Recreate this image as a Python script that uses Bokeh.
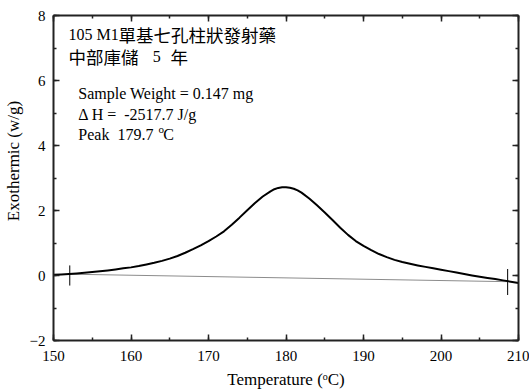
from bokeh.plotting import figure
from bokeh.models import (Range1d, LinearAxis, SingleIntervalTicker, Label,
                          CustomLabelingPolicy)
from bokeh.embed import file_html
from bokeh.resources import INLINE

# ---- data ----
temp = [150, 151, 152, 153, 154, 155, 156, 157, 158, 159, 160, 161, 162, 163,
        164, 165, 166, 167, 168, 169, 170, 171, 172, 173, 174, 175, 176, 177,
        178, 178.5, 179, 179.5, 180, 180.5, 181, 181.5, 182, 183, 184, 185,
        186, 187, 188, 189, 190, 191, 192, 193, 194, 195, 196, 197, 198, 199,
        200, 201, 202, 203, 204, 205, 206, 207, 208, 209, 210]
heat = [0.020, 0.033, 0.048, 0.065, 0.084, 0.105, 0.129, 0.156, 0.187, 0.220,
        0.250, 0.290, 0.340, 0.390, 0.450, 0.520, 0.600, 0.700, 0.810, 0.930,
        1.060, 1.200, 1.360, 1.560, 1.780, 2.010, 2.230, 2.430, 2.590, 2.655,
        2.695, 2.715, 2.715, 2.700, 2.670, 2.620, 2.550, 2.370, 2.160, 1.940,
        1.710, 1.470, 1.250, 1.060, 0.910, 0.780, 0.660, 0.565, 0.480, 0.415,
        0.360, 0.310, 0.265, 0.220, 0.180, 0.135, 0.090, 0.045, 0.003, -0.037,
        -0.075, -0.110, -0.150, -0.190, -0.230]
baseline_t = [152.1, 208.6]
baseline_h = [0.04, -0.19]
marker_t = [152.1, 208.6]
marker_lo = [-0.31, -0.60]
marker_hi = [0.31, 0.20]

SERIF = "'Liberation Serif', 'Times New Roman', 'DejaVu Serif', serif"
CJK = "'Noto Sans CJK TC', 'Noto Sans CJK SC', sans-serif"
NB = "\u00a0"

p = figure(width=529, height=391, output_backend="svg", toolbar_location=None,
           x_range=Range1d(150, 210), y_range=Range1d(-2, 8),
           x_axis_location=None, y_axis_location=None,
           min_border_left=53, min_border_right=11, min_border_top=15,
           min_border_bottom=50)
p.outline_line_color = None
p.xgrid.visible = False
p.ygrid.visible = False
p.background_fill_color = "white"
p.border_fill_color = "white"

hide_labels = CustomLabelingPolicy(code="""
try { for (const i of Array.from(indices)) indices.unset(i) } catch (e) {}
return indices
""")


def style_axis(ax, labels=True):
    ax.axis_line_width = 2
    ax.axis_line_color = "#222222"
    ax.major_tick_in = 6
    ax.major_tick_out = 0
    ax.minor_tick_in = 3
    ax.minor_tick_out = 0
    ax.major_tick_line_width = 1.5
    ax.minor_tick_line_width = 1.5
    ax.major_tick_line_color = "#222222"
    ax.minor_tick_line_color = "#222222"
    ax.major_label_text_font = SERIF
    ax.major_label_text_color = "black"
    if labels:
        ax.major_label_text_font_size = "15px"
        ax.major_label_standoff = 8
    else:
        ax.major_label_text_font_size = "0px"
        ax.major_label_standoff = 0
        ax.major_label_policy = hide_labels


xb = LinearAxis(ticker=SingleIntervalTicker(interval=10, num_minor_ticks=2),
                axis_label="Temperature (\u1d52C)")
style_axis(xb)
xb.major_label_standoff = 10
xb.axis_label_text_font = SERIF
xb.axis_label_text_font_size = "17px"
xb.axis_label_text_font_style = "normal"
xb.axis_label_text_color = "black"
xb.axis_label_standoff = 6
p.add_layout(xb, "below")
xt = LinearAxis(ticker=SingleIntervalTicker(interval=10, num_minor_ticks=2))
style_axis(xt, labels=False)
p.add_layout(xt, "above")

yl = LinearAxis(ticker=SingleIntervalTicker(interval=2, num_minor_ticks=2),
                axis_label=NB * 8 + "Exothermic (w/g)")
style_axis(yl)
yl.axis_label_text_font = SERIF
yl.axis_label_text_font_size = "17px"
yl.axis_label_text_font_style = "normal"
yl.axis_label_text_color = "black"
yl.axis_label_standoff = 4
p.add_layout(yl, "left")
yr = LinearAxis(ticker=SingleIntervalTicker(interval=2, num_minor_ticks=2))
style_axis(yr, labels=False)
p.add_layout(yr, "right")

# baseline and markers
p.line(baseline_t, baseline_h, line_color="#8c8c8c", line_width=1)
p.segment(x0=marker_t, y0=marker_lo, x1=marker_t, y1=marker_hi,
          line_color="black", line_width=1)
# DSC curve
p.line(temp, heat, line_color="black", line_width=2, line_join="round")


def lab(x, y, text, font=SERIF, size="16px"):
    p.add_layout(Label(x=x, y=y, text=text, text_font=font,
                       text_font_size=size, text_color="black",
                       text_baseline="alphabetic", text_align="left"))


# title lines
lab(151.95, 7.415, "105 M1")
lab(158.4, 7.415, "單基七孔柱狀發射藥", font=CJK, size="17.5px")
lab(151.95, 6.736, "中部庫儲", font=CJK, size="17.5px")
lab(162.8, 6.736, "5")
lab(165.1, 6.736, "年", font=CJK, size="17.5px")

# annotation lines
lab(153.2, 5.60, "Sample Weight = 0.147 mg")
lab(153.2, 4.954, "\u0394 H =" + NB + NB + "-2517.7 J/g")
lab(153.2, 4.338, "Peak" + NB + NB + "179.7")
lab(163.55, 4.50, "o", size="11px")
lab(164.15, 4.338, "C")

open("out.html", "w").write(file_html(p, INLINE))
